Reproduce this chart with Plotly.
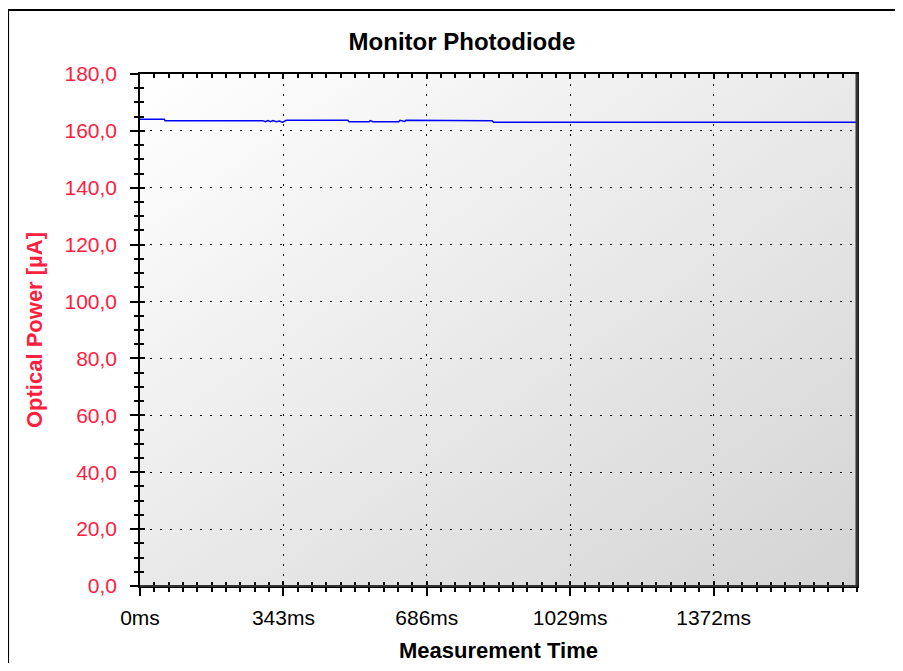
import base64
import plotly.graph_objects as go

time_ms = [0, 58, 60, 294, 300, 306, 312, 318, 326, 334, 340, 350, 497, 500, 548, 551, 557,
           619, 622, 630, 633, 636, 842, 846, 1715]
power_ua = [164.1, 164.1, 163.6, 163.6, 163.2, 163.6, 163.2, 163.6, 163.2, 163.5, 163.0, 163.7,
            163.7, 163.2, 163.2, 163.6, 163.2, 163.2, 163.7, 163.6, 163.3, 163.7, 163.6, 163.0, 163.0]

x_ticks = [0, 343, 686, 1029, 1372]
x_labels = [str(v) + "ms" for v in x_ticks]
y_ticks = [0, 20, 40, 60, 80, 100, 120, 140, 160, 180]

red = "#ff2040"
font = "Liberation Sans, Arial, sans-serif"

# diagonal grey gradient for the plot background
svg = ('<svg xmlns="http://www.w3.org/2000/svg" width="100" height="100" preserveAspectRatio="none">'
       '<defs><linearGradient id="g" x1="0" y1="0" x2="1" y2="1">'
       '<stop offset="0" stop-color="#ffffff"/><stop offset="1" stop-color="#d4d4d4"/>'
       '</linearGradient></defs><rect width="100" height="100" fill="url(#g)"/></svg>')
bg = "data:image/svg+xml;base64," + base64.b64encode(svg.encode()).decode()

fig = go.Figure()
fig.add_trace(go.Scatter(x=time_ms, y=power_ua, mode="lines",
                         line=dict(color="#0000ff", width=1.5), showlegend=False))
# invisible trace to hang the inner-tick axes on
fig.add_trace(go.Scatter(x=[None], y=[None], xaxis="x2", yaxis="y2", showlegend=False))

grid = dict(showgrid=True, gridcolor="black", gridwidth=1, griddash="2px,8px")

fig.update_layout(
    width=887, height=655,
    margin=dict(l=132, r=38, t=66, b=77, autoexpand=False),
    paper_bgcolor="white", plot_bgcolor="rgba(0,0,0,0)",
    separators=", ",
    title=dict(text="<b>Monitor Photodiode</b>", x=0.449, xref="paper", y=0.948, yanchor="middle",
               font=dict(family=font, size=24, color="black")),
    xaxis=dict(range=[0, 1715], tickvals=x_ticks, ticktext=x_labels, ticks="outside", ticklen=8,
               tickwidth=1.5, tickcolor="black", showline=True, linecolor="black", linewidth=1.5,
               mirror=True, zeroline=False, ticklabelstandoff=4, automargin=False,
               minor=dict(dtick=34.3, tick0=0, ticks="outside", ticklen=4, tickcolor="black", showgrid=False),
               tickfont=dict(family=font, size=21, color="black"),
               title=dict(text="<b>Measurement Time</b>", standoff=17,
                          font=dict(family=font, size=22, color="black")),
               **grid),
    yaxis=dict(range=[0, 180], tickvals=y_ticks, tickformat=".1f", ticks="outside", ticklen=8,
               tickwidth=1.5, tickcolor="black", showline=True, linecolor="black", linewidth=1.5,
               mirror=True, zeroline=False, ticklabelstandoff=9, automargin=False,
               minor=dict(dtick=5, tick0=0, ticks="outside", ticklen=4, tickcolor="black", showgrid=False),
               tickfont=dict(family=font, size=21, color=red),
               title=dict(text="<b>Optical Power [µA]</b>", standoff=16,
                          font=dict(family=font, size=22, color=red)),
               **grid),
    xaxis2=dict(overlaying="x", matches="x", range=[0, 1715], tickvals=x_ticks, ticks="inside",
                ticklen=5, tickwidth=1.5, tickcolor="black", mirror="ticks", showline=False,
                showticklabels=False, showgrid=False, zeroline=False,
                minor=dict(dtick=34.3, tick0=0, ticks="inside", ticklen=4, tickcolor="black")),
    yaxis2=dict(overlaying="y", matches="y", range=[0, 180], tickvals=y_ticks, ticks="inside",
                ticklen=5, tickwidth=1.5, tickcolor="black", showline=False,
                showticklabels=False, showgrid=False, zeroline=False,
                minor=dict(dtick=5, tick0=0, ticks="inside", ticklen=4, tickcolor="black")),
    images=[dict(source=bg, xref="paper", yref="paper", x=0, y=1, sizex=1, sizey=1,
                 sizing="stretch", layer="below")],
    shapes=[
        # outer frame of the chart control
        dict(type="rect", xref="paper", yref="paper", x0=-0.184, x1=1.1, y0=-0.2, y1=1.125,
             line=dict(color="black", width=2), fillcolor="rgba(0,0,0,0)"),
        # darker right/bottom edge of plot area
        dict(type="line", xref="paper", yref="paper", x0=1, x1=1, y0=0, y1=1,
             line=dict(color="#333333", width=3)),
        dict(type="line", xref="paper", yref="paper", x0=0, x1=1, y0=0, y1=0,
             line=dict(color="#333333", width=2)),
    ],
)

fig.write_html("out.html")
